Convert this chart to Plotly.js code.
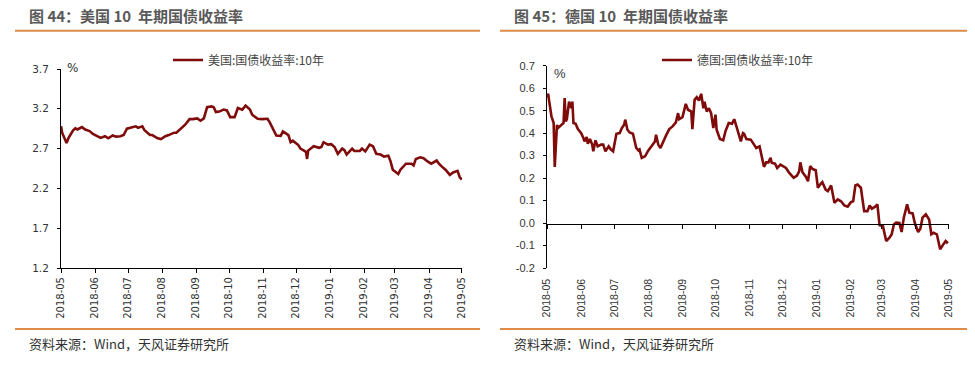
<!DOCTYPE html>
<html>
<head>
<meta charset="utf-8">
<script src="https://cdn.plot.ly/plotly-3.0.1.min.js"></script>
<style>
html,body{margin:0;padding:0;background:#fff;}
#chart{width:975px;height:365px;}
</style>
</head>
<body>
<div id="chart"></div>
<script>
// ---------- data ----------
const usName = "美国:国债收益率:10年";
const deName = "德国:国债收益率:10年";

const usDates = ["2018-05-24","2018-05-25","2018-05-29","2018-05-31","2018-06-04","2018-06-06","2018-06-08","2018-06-12","2018-06-15","2018-06-19","2018-06-22","2018-06-27","2018-06-29","2018-07-03","2018-07-06","2018-07-10","2018-07-13","2018-07-17","2018-07-20","2018-07-23","2018-07-27","2018-07-31","2018-08-02","2018-08-06","2018-08-08","2018-08-13","2018-08-15","2018-08-17","2018-08-20","2018-08-23","2018-08-27","2018-08-30","2018-09-04","2018-09-06","2018-09-10","2018-09-12","2018-09-14","2018-09-18","2018-09-21","2018-09-25","2018-09-28","2018-10-01","2018-10-04","2018-10-08","2018-10-10","2018-10-12","2018-10-15","2018-10-19","2018-10-22","2018-10-25","2018-10-29","2018-11-01","2018-11-05","2018-11-08","2018-11-12","2018-11-14","2018-11-19","2018-11-23","2018-11-28","2018-11-30","2018-12-03","2018-12-06","2018-12-10","2018-12-12","2018-12-17","2018-12-19","2018-12-21","2018-12-26","2018-12-28","2019-01-02","2019-01-03","2019-01-04","2019-01-09","2019-01-14","2019-01-16","2019-01-18","2019-01-22","2019-01-25","2019-01-28","2019-01-31","2019-02-04","2019-02-06","2019-02-08","2019-02-13","2019-02-15","2019-02-20","2019-02-22","2019-02-25","2019-03-01","2019-03-04","2019-03-07","2019-03-11","2019-03-14","2019-03-18","2019-03-20","2019-03-22","2019-03-27","2019-03-29","2019-04-03","2019-04-08","2019-04-10","2019-04-12","2019-04-16","2019-04-19","2019-04-23","2019-04-26","2019-05-01","2019-05-03","2019-05-06","2019-05-09","2019-05-13","2019-05-16","2019-05-20","2019-05-22","2019-05-24"];
const usYield = [2.98,2.90,2.77,2.84,2.93,2.955,2.94,2.97,2.94,2.92,2.885,2.855,2.835,2.855,2.83,2.865,2.85,2.855,2.87,2.95,2.97,2.98,2.96,2.98,2.93,2.87,2.87,2.85,2.83,2.82,2.855,2.87,2.90,2.90,2.95,2.97,3.00,3.07,3.07,3.08,3.05,3.08,3.22,3.23,3.22,3.16,3.165,3.19,3.18,3.095,3.095,3.21,3.19,3.24,3.19,3.125,3.075,3.07,3.075,3.03,2.95,2.865,2.86,2.915,2.87,2.78,2.80,2.745,2.70,2.66,2.57,2.675,2.73,2.71,2.72,2.78,2.75,2.755,2.72,2.635,2.70,2.68,2.625,2.70,2.67,2.67,2.70,2.665,2.75,2.73,2.635,2.625,2.60,2.61,2.54,2.435,2.38,2.435,2.51,2.51,2.49,2.57,2.59,2.58,2.535,2.51,2.55,2.51,2.47,2.435,2.37,2.40,2.42,2.34,2.31];

const deDates = ["2018-05-24","2018-05-25","2018-05-26","2018-05-27","2018-05-28","2018-05-29","2018-05-30","2018-05-31","2018-06-02","2018-06-03","2018-06-06","2018-06-08","2018-06-09","2018-06-10","2018-06-11","2018-06-13","2018-06-15","2018-06-16","2018-06-17","2018-06-19","2018-06-21","2018-06-24","2018-06-26","2018-06-27","2018-06-29","2018-06-30","2018-07-02","2018-07-04","2018-07-05","2018-07-07","2018-07-09","2018-07-12","2018-07-14","2018-07-16","2018-07-19","2018-07-21","2018-07-23","2018-07-25","2018-07-26","2018-07-29","2018-07-31","2018-08-02","2018-08-03","2018-08-05","2018-08-07","2018-08-10","2018-08-13","2018-08-15","2018-08-16","2018-08-18","2018-08-21","2018-08-24","2018-08-27","2018-08-30","2018-08-31","2018-09-02","2018-09-04","2018-09-07","2018-09-09","2018-09-12","2018-09-15","2018-09-18","2018-09-20","2018-09-21","2018-09-24","2018-09-27","2018-09-29","2018-10-02","2018-10-03","2018-10-05","2018-10-07","2018-10-09","2018-10-11","2018-10-13","2018-10-14","2018-10-16","2018-10-18","2018-10-20","2018-10-22","2018-10-24","2018-10-25","2018-10-28","2018-10-31","2018-11-02","2018-11-05","2018-11-08","2018-11-10","2018-11-12","2018-11-14","2018-11-16","2018-11-18","2018-11-19","2018-11-21","2018-11-25","2018-11-28","2018-11-30","2018-12-03","2018-12-05","2018-12-07","2018-12-09","2018-12-11","2018-12-13","2018-12-14","2018-12-17","2018-12-19","2018-12-22","2018-12-24","2018-12-27","2018-12-30","2019-01-03","2019-01-06","2019-01-08","2019-01-09","2019-01-11","2019-01-14","2019-01-16","2019-01-18","2019-01-20","2019-01-23","2019-01-25","2019-01-27","2019-01-29","2019-02-01","2019-02-03","2019-02-06","2019-02-09","2019-02-12","2019-02-15","2019-02-18","2019-02-21","2019-02-24","2019-02-26","2019-02-28","2019-03-02","2019-03-05","2019-03-08","2019-03-11","2019-03-13","2019-03-15","2019-03-18","2019-03-20","2019-03-22","2019-03-25","2019-03-28","2019-03-31","2019-04-02","2019-04-04","2019-04-06","2019-04-09","2019-04-11","2019-04-13","2019-04-16","2019-04-18","2019-04-21","2019-04-23","2019-04-26","2019-04-28","2019-04-30","2019-05-03","2019-05-06","2019-05-08","2019-05-10","2019-05-13","2019-05-16","2019-05-19","2019-05-21","2019-05-23"];
const deYield = [0.56,0.575,0.54,0.50,0.475,0.46,0.445,0.25,0.437,0.423,0.437,0.445,0.556,0.452,0.462,0.54,0.511,0.54,0.445,0.442,0.418,0.40,0.378,0.363,0.383,0.353,0.374,0.349,0.319,0.368,0.341,0.349,0.349,0.319,0.341,0.327,0.319,0.371,0.397,0.40,0.423,0.437,0.46,0.415,0.403,0.397,0.334,0.323,0.327,0.29,0.297,0.323,0.344,0.363,0.393,0.349,0.334,0.371,0.389,0.418,0.43,0.448,0.489,0.462,0.471,0.53,0.504,0.496,0.418,0.548,0.56,0.545,0.575,0.511,0.54,0.496,0.511,0.489,0.423,0.482,0.415,0.374,0.368,0.408,0.445,0.442,0.462,0.43,0.40,0.363,0.40,0.397,0.374,0.371,0.349,0.334,0.341,0.297,0.25,0.27,0.27,0.29,0.268,0.264,0.245,0.26,0.253,0.245,0.223,0.201,0.211,0.23,0.27,0.226,0.206,0.186,0.253,0.241,0.235,0.157,0.171,0.182,0.149,0.142,0.167,0.09,0.105,0.097,0.078,0.073,0.093,0.097,0.167,0.171,0.157,0.053,0.053,0.078,0.064,0.073,0.083,-0.01,-0.013,-0.08,-0.065,-0.05,-0.006,0.002,0.0,-0.04,0.024,0.083,0.046,0.043,0.0,-0.04,-0.025,0.024,0.039,0.016,-0.05,-0.043,-0.05,-0.117,-0.094,-0.08,-0.09];

const usTickVals = [1.2,1.7,2.2,2.7,3.2,3.7];
const usTickText = ["1.2","1.7","2.2","2.7","3.2","3.7"];
const deTickVals = [-0.2,-0.1,0.0,0.1,0.2,0.3,0.4,0.5,0.6,0.7];
const deTickText = ["-0.2","-0.1","0.0","0.1","0.2","0.3","0.4","0.5","0.6","0.7"];

const titleLeft = "图 44：美国 10\u00a0\u00a0年期国债收益率";
const titleRight = "图 45：德国 10\u00a0\u00a0年期国债收益率";
const sourceText = "资料来源：Wind，天风证券研究所";

// ---------- layout helpers ----------
const W = 975, H = 365;
const px = v => v / W;
const py = v => 1 - v / H;
const lineColor = "#7F0B0B";
const orange = "#DC8C48";
const cjk = "'Noto Sans CJK SC', 'Noto Sans', sans-serif";

const traces = [
  {x: usDates, y: usYield, name: usName, type: "scatter", mode: "lines",
   line: {color: lineColor, width: 2.6}, xaxis: "x", yaxis: "y", legend: "legend"},
  {x: deDates, y: deYield, name: deName, type: "scatter", mode: "lines",
   line: {color: lineColor, width: 2.6}, xaxis: "x2", yaxis: "y2", legend: "legend2"}
];

const dateAxisCommon = {
  type: "date",
  range: ["2018-05-23 23:00", "2019-05-24 01:00"],
  tick0: "2018-05-24",
  dtick: "M1",
  tickformat: "%Y-%m",
  tickangle: -90,
  showgrid: false,
  zeroline: false,
  linecolor: "#000",
  linewidth: 1,
  tickcolor: "#000",
  tickwidth: 1
};

const layout = {
  width: W, height: H,
  margin: {l: 0, r: 0, t: 0, b: 0},
  paper_bgcolor: "#fff",
  plot_bgcolor: "rgba(0,0,0,0)",
  showlegend: true,
  xaxis: Object.assign({}, dateAxisCommon, {
    domain: [px(61), px(462)], anchor: "y",
    showline: true, ticks: "outside", ticklen: 4,
    tickfont: {family: "'DejaVu Sans', sans-serif", size: 10, color: "#333"}
  }),
  yaxis: {
    domain: [py(268), py(69)], anchor: "x",
    range: [1.2, 3.7],
    tickmode: "array", tickvals: usTickVals, ticktext: usTickText,
    showline: true, linecolor: "#000", linewidth: 1,
    ticks: "outside", ticklen: 3, tickcolor: "#000",
    ticklabelstandoff: 6,
    showgrid: false, zeroline: false,
    tickfont: {family: "'DejaVu Sans', sans-serif", size: 10.5, color: "#333"}
  },
  xaxis2: Object.assign({}, dateAxisCommon, {
    domain: [px(547), px(949)], anchor: "free",
    position: py(223.7),
    showline: true, ticks: "outside", ticklen: 4,
    ticklabelstandoff: 46,
    tickfont: {family: "'Liberation Sans', Arial, sans-serif", size: 10.5, color: "#333"}
  }),
  yaxis2: {
    domain: [py(268), py(65.7)], anchor: "x2",
    range: [-0.2, 0.7],
    tickmode: "array", tickvals: deTickVals, ticktext: deTickText,
    showline: true, linecolor: "#000", linewidth: 1,
    ticks: "outside", ticklen: 3, tickcolor: "#000",
    ticklabelstandoff: 6,
    showgrid: false, zeroline: false,
    tickfont: {family: "'Liberation Sans', Arial, sans-serif", size: 11, color: "#333"}
  },
  legend: {
    x: px(168), y: py(60), xanchor: "left", yanchor: "middle",
    bgcolor: "rgba(0,0,0,0)", borderwidth: 0,
    font: {family: cjk, size: 12, color: "#444"}
  },
  legend2: {
    x: px(657), y: py(60), xanchor: "left", yanchor: "middle",
    bgcolor: "rgba(0,0,0,0)", borderwidth: 0,
    font: {family: cjk, size: 12, color: "#444"}
  },
  shapes: [
    {type: "line", xref: "paper", yref: "paper", x0: px(15), x1: px(480), y0: py(30.7), y1: py(30.7), line: {color: orange, width: 2}},
    {type: "line", xref: "paper", yref: "paper", x0: px(500), x1: px(967), y0: py(30.7), y1: py(30.7), line: {color: orange, width: 2}},
    {type: "line", xref: "paper", yref: "paper", x0: px(15), x1: px(480), y0: py(329), y1: py(329), line: {color: orange, width: 2}},
    {type: "line", xref: "paper", yref: "paper", x0: px(500), x1: px(967), y0: py(329), y1: py(329), line: {color: orange, width: 2}}
  ],
  annotations: [
    {xref: "paper", yref: "paper", x: px(27), y: py(15.5), xanchor: "left", yanchor: "middle", showarrow: false,
     text: "<b>" + titleLeft + "</b>", font: {family: cjk, size: 15, color: "#595959"}},
    {xref: "paper", yref: "paper", x: px(512), y: py(15.5), xanchor: "left", yanchor: "middle", showarrow: false,
     text: "<b>" + titleRight + "</b>", font: {family: cjk, size: 15, color: "#595959"}},
    {xref: "paper", yref: "paper", x: px(27), y: py(343), xanchor: "left", yanchor: "middle", showarrow: false,
     text: sourceText, font: {family: cjk, size: 13, color: "#333"}},
    {xref: "paper", yref: "paper", x: px(512), y: py(343), xanchor: "left", yanchor: "middle", showarrow: false,
     text: sourceText, font: {family: cjk, size: 13, color: "#333"}},
    {xref: "paper", yref: "paper", x: px(65), y: py(68.5), xanchor: "left", yanchor: "middle", showarrow: false,
     text: "%", font: {family: "'DejaVu Sans', sans-serif", size: 12, color: "#333"}},
    {xref: "paper", yref: "paper", x: px(552), y: py(73.5), xanchor: "left", yanchor: "middle", showarrow: false,
     text: "%", font: {family: "'Liberation Sans', Arial, sans-serif", size: 13, color: "#333"}}
  ]
};

Plotly.newPlot("chart", traces, layout, {staticPlot: true, displayModeBar: false});
</script>
</body>
</html>
